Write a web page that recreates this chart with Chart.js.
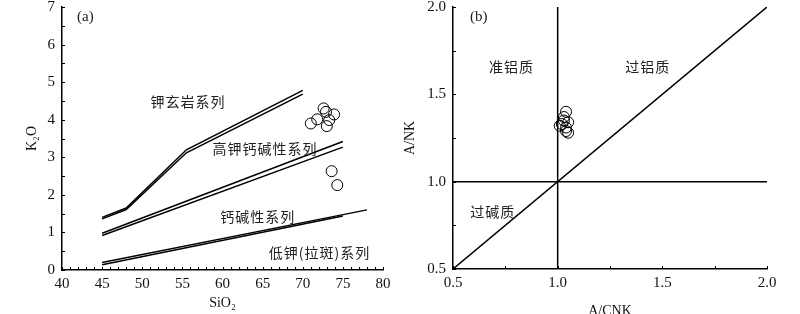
<!DOCTYPE html>
<html>
<head>
<meta charset="utf-8">
<script src="https://cdn.jsdelivr.net/npm/chart.js@4/dist/chart.umd.min.js"></script>
<style>
  body { margin: 0; background: #fff; }
  #wrap { position: relative; width: 800px; height: 314px; overflow: hidden; }
  canvas { position: absolute; top: 0; }
  #chartA { left: 0; }
  #chartB { left: 400px; }
</style>
</head>
<body>
<div id="wrap">
  <canvas id="chartA" width="400" height="314"></canvas>
  <canvas id="chartB" width="400" height="314"></canvas>
</div>
<script>
// (a) SiO2 - K2O samples
var sio2Samples = [71.0, 71.8, 72.6, 72.9, 73.9, 73.3, 73.0, 73.6, 74.3];
var k2oSamples = [3.90, 4.01, 4.30, 4.21, 4.14, 3.99, 3.83, 2.63, 2.26];

// (a) series boundaries, each drawn as two close lines
var shoshX = [45, 48, 55.5, 70];
var shoshY1 = [1.40, 1.65, 3.20, 4.78];
var shoshY2 = [1.36, 1.61, 3.12, 4.68];
var highKX = [45, 75];
var highKY1 = [0.98, 3.42];
var highKY2 = [0.92, 3.27];
var lowKX1 = [45, 78];
var lowKY1 = [0.20, 1.60];
var lowKX2 = [45, 75];
var lowKY2 = [0.14, 1.44];

// (b) A/CNK - A/NK samples
var acnkSamples = [1.04, 1.03, 1.03, 1.01, 1.02, 1.05, 1.04, 1.05, 1.04];
var ankSamples = [1.40, 1.37, 1.35, 1.32, 1.33, 1.34, 1.31, 1.28, 1.29];

// (b) field boundaries
var vertX = [1.0, 1.0];
var vertY = [0.5, 2.0];
var horzX = [0.5, 2.0];
var horzY = [1.0, 1.0];
var diagX = [0.5, 2.0];
var diagY = [0.5, 2.0];

// text labels: [text, x, y]
var labelsA = [
  ["钾玄岩系列", 55.7, 4.47],
  ["高钾钙碱性系列", 65.3, 3.24],
  ["钙碱性系列", 64.4, 1.41],
  ["低钾(拉斑)系列", 72.1, 0.45]
];
var labelsB = [
  ["准铝质", 0.78, 1.66],
  ["过铝质", 1.43, 1.66],
  ["过碱质", 0.69, 0.83]
];

Chart.defaults.font.family = "'Liberation Serif', 'Times New Roman', serif";
Chart.defaults.color = "#111";

function zip(xs, ys) {
  var out = [];
  for (let i = 0; i < xs.length; i++) out.push({ x: xs[i], y: ys[i] });
  return out;
}

function lineSet(xs, ys) {
  return {
    data: zip(xs, ys),
    showLine: true,
    borderColor: "#000",
    borderWidth: 1.5,
    pointRadius: 0,
    tension: 0,
  };
}

function pointSet(xs, ys) {
  return {
    data: zip(xs, ys),
    showLine: false,
    pointStyle: "circle",
    pointRadius: 5.5,
    borderColor: "#000",
    borderWidth: 1,
    backgroundColor: "rgba(255,255,255,0)",
  };
}

// small ticks drawn inside the axes
var innerTicks = {
  id: "innerTicks",
  afterDraw(chart, args, opts) {
    var ctx = chart.ctx;
    var a = chart.chartArea;
    var xs = chart.scales.x;
    var ys = chart.scales.y;
    ctx.save();
    ctx.strokeStyle = "#000";
    ctx.lineWidth = 1;
    for (let v = xs.min; v <= xs.max + 1e-9; v += opts.xStep) {
      var px = Math.round(xs.getPixelForValue(v)) + 0.5;
      ctx.beginPath();
      ctx.moveTo(px, a.bottom);
      ctx.lineTo(px, a.bottom - opts.len);
      ctx.stroke();
    }
    for (let v = ys.min; v <= ys.max + 1e-9; v += opts.yStep) {
      var py = Math.round(ys.getPixelForValue(v)) + 0.5;
      ctx.beginPath();
      ctx.moveTo(a.left, py);
      ctx.lineTo(a.left + opts.len, py);
      ctx.stroke();
    }
    ctx.restore();
  }
};

var textLabels = {
  id: "textLabels",
  afterDatasetsDraw(chart, args, opts) {
    var ctx = chart.ctx;
    var xs = chart.scales.x;
    var ys = chart.scales.y;
    ctx.save();
    ctx.fillStyle = "#222";
    ctx.textAlign = "center";
    ctx.textBaseline = "middle";
    ctx.font = "14px 'Noto Sans CJK SC'";
    ctx.letterSpacing = "1px";
    opts.items.forEach(function(it) {
      ctx.fillText(it[0], xs.getPixelForValue(it[1]), ys.getPixelForValue(it[2]));
    });
    ctx.letterSpacing = "0px";
    ctx.font = "15px 'Liberation Serif'";
    ctx.textAlign = "left";
    ctx.fillText(opts.tag, chart.chartArea.left + opts.tagDx, chart.chartArea.top + 10);
    ctx.restore();
  }
};

function axisOpts(min, max, step, title, width, isY, decimals, titlePad) {
  return {
    type: "linear",
    min: min,
    max: max,
    afterFit: function(s) {
      if (isY) {
        s.width = width;
        s.paddingTop = 0;
      } else {
        s.height = width;
      }
    },
    ticks: {
      stepSize: step,
      padding: isY ? 7 : 5,
      font: { size: 15 },
      color: "#111",
      callback: function(v) { return decimals ? v.toFixed(decimals) : v; }
    },
    grid: { display: false, drawTicks: false, tickLength: 0 },
    border: { display: true, color: "#000", width: 1.5 },
    title: {
      display: true,
      text: title,
      font: { size: 14 },
      color: "#111",
      padding: titlePad
    }
  };
}

var configA = {
  type: "scatter",
  data: {
    datasets: [
      lineSet(shoshX, shoshY1),
      lineSet(shoshX, shoshY2),
      lineSet(highKX, highKY1),
      lineSet(highKX, highKY2),
      lineSet(lowKX1, lowKY1),
      lineSet(lowKX2, lowKY2),
      pointSet(sio2Samples, k2oSamples)
    ]
  },
  options: {
    responsive: false,
    animation: false,
    layout: { padding: { left: 20, top: 7, right: 17, bottom: 0 } },
    scales: {
      x: axisOpts(40, 80, 5, "SiO₂", 44, false, 0, { top: 0, bottom: 2 }),
      y: axisOpts(0, 7, 1, "K₂O", 42, true, 0, { top: 4, bottom: 0 })
    },
    plugins: {
      legend: { display: false },
      tooltip: { enabled: false },
      innerTicks: { xStep: 1, yStep: 0.5, len: 3 },
      textLabels: { items: labelsA, tag: "(a)", tagDx: 15 }
    }
  },
  plugins: [innerTicks, textLabels]
};

var configB = {
  type: "scatter",
  data: {
    datasets: [
      lineSet(vertX, vertY),
      lineSet(horzX, horzY),
      lineSet(diagX, diagY),
      pointSet(acnkSamples, ankSamples)
    ]
  },
  options: {
    responsive: false,
    animation: false,
    layout: { padding: { left: 0, top: 7, right: 33, bottom: 0 } },
    scales: {
      x: axisOpts(0.5, 2.0, 0.5, "A/CNK", 45, false, 1, { top: 0, bottom: -6 }),
      y: axisOpts(0.5, 2.0, 0.5, "A/NK", 53, true, 1, { top: 2, bottom: 0 })
    },
    plugins: {
      legend: { display: false },
      tooltip: { enabled: false },
      innerTicks: { xStep: 0.25, yStep: 0.25, len: 3 },
      textLabels: { items: labelsB, tag: "(b)", tagDx: 17 }
    }
  },
  plugins: [innerTicks, textLabels]
};

var chartA = new Chart(document.getElementById("chartA"), configA);
var chartB = new Chart(document.getElementById("chartB"), configB);
</script>
</body>
</html>
